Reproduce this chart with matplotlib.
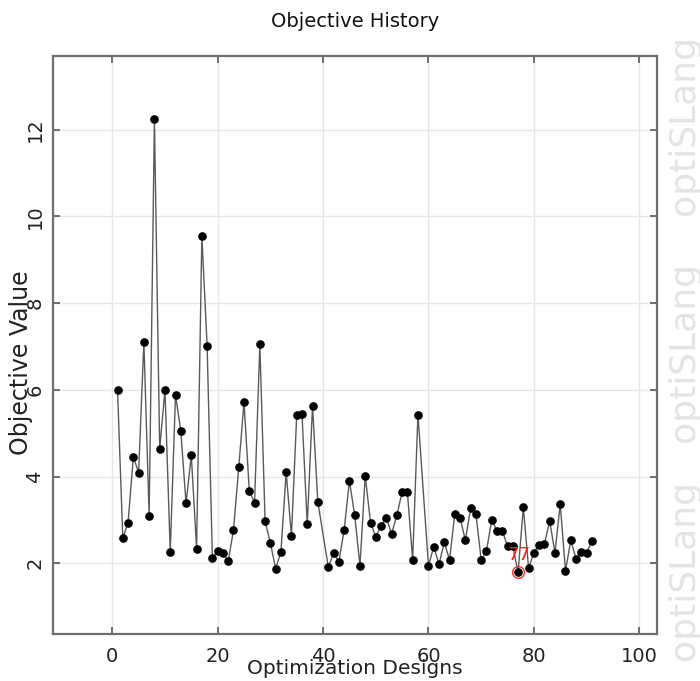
import numpy as np
import matplotlib
matplotlib.use("Agg")
import matplotlib.pyplot as plt

# Optimization history (designs 40 and 59 have no value)
designs = [1, 2, 3, 4, 5, 6, 7, 8, 9, 10, 11, 12, 13, 14, 15, 16, 17, 18, 19, 20,
           21, 22, 23, 24, 25, 26, 27, 28, 29, 30, 31, 32, 33, 34, 35, 36, 37, 38, 39,
           41, 42, 43, 44, 45, 46, 47, 48, 49, 50, 51, 52, 53, 54, 55, 56, 57, 58,
           60, 61, 62, 63, 64, 65, 66, 67, 68, 69, 70, 71, 72, 73, 74, 75, 76, 77, 78,
           79, 80, 81, 82, 83, 84, 85, 86, 87, 88, 89, 90, 91]
objective = [6.00, 2.58, 2.94, 4.46, 4.09, 7.11, 3.09, 12.24, 4.64, 6.00,
             2.27, 5.88, 5.06, 3.38, 4.49, 2.34, 9.54, 7.01, 2.12, 2.28,
             2.23, 2.05, 2.76, 4.21, 5.72, 3.67, 3.40, 7.05, 2.97, 2.47,
             1.88, 2.26, 4.10, 2.63, 5.42, 5.44, 2.90, 5.63, 3.42,
             1.91, 2.23, 2.04, 2.77, 3.90, 3.11, 1.94, 4.02, 2.94, 2.61,
             2.87, 3.05, 2.68, 3.11, 3.64, 3.64, 2.08, 5.43,
             1.94, 2.38, 1.98, 2.48, 2.08, 3.14, 3.05, 2.53, 3.27, 3.14,
             2.08, 2.28, 3.00, 2.75, 2.75, 2.40, 2.40, 1.79, 3.29,
             1.89, 2.24, 2.43, 2.45, 2.97, 2.24, 3.37, 1.82, 2.53, 2.11,
             2.26, 2.24, 2.51]
best_design = 77

x_ticks = [0, 20, 40, 60, 80, 100]
y_ticks = [2, 4, 6, 8, 10, 12]

plt.rcParams['font.family'] = ['DejaVu Sans']

fig = plt.figure(figsize=(7, 6.81), dpi=100, facecolor='white')
ax = fig.add_axes([0.0753, 0.069, 0.8628, 0.849])

ax.plot(designs, objective, color='#5a5a5a', linewidth=1.0, zorder=3)
ax.plot(designs, objective, linestyle='none', marker='o', markersize=5.2,
        color='black', zorder=4)

# best design highlight
best_val = objective[designs.index(best_design)]
ax.plot([best_design], [best_val], linestyle='none', marker='o', markersize=8.5,
        markerfacecolor='none', markeredgecolor='#ff3030', markeredgewidth=1.0, zorder=5)
ax.annotate(str(best_design), (best_design, best_val), xytext=(1, 9),
            textcoords='offset points', ha='center', va='baseline',
            color='#ff1a1a', fontsize=13, zorder=6)

ax.set_xlim(-11.3, 103.3)
ax.set_ylim(0.37, 13.7)
ax.set_xticks(x_ticks)
ax.set_yticks(y_ticks)
ax.grid(True, color='#e6e6e6', linewidth=1.0, zorder=0)
ax.set_axisbelow(True)

for s in ax.spines.values():
    s.set_color('#6e6e6e')
    s.set_linewidth(1.6)

ax.tick_params(direction='in', length=5, width=1.4, color='#6e6e6e',
               top=True, right=True, labelsize=14, labelcolor='#222222', pad=6)
ax.tick_params(axis='x', pad=9)
for lab in ax.get_yticklabels():
    lab.set_rotation(90)
    lab.set_va('center')

ax.set_title("Objective History", fontsize=14, color='#111111', pad=21)
ax.set_xlabel("Optimization Designs", fontsize=14.5, color='#222222')
ax.xaxis.set_label_coords(0.5, -0.044)
ax.set_ylabel("Objective Value", fontsize=17, color='#222222', va='center')
ax.yaxis.set_label_coords(-0.053, 0.47)

# watermark
for yc in [125 / 681, 352 / 681, 570 / 681]:
    fig.text(684 / 700, 1 - yc, "optiSLang", rotation=90, ha='center', va='center',
             fontsize=26, color='#e4e4e4')

fig.savefig("out.png", dpi=100, facecolor='white')
